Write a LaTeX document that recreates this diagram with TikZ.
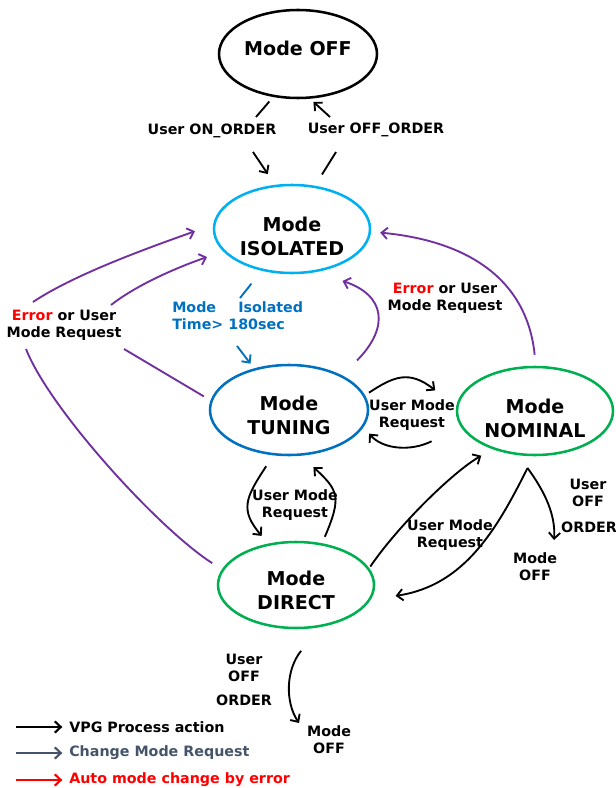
\documentclass[tikz,border=0pt]{standalone}
\usepackage{fontspec}
\setmainfont{DejaVu Sans}
\usetikzlibrary{shapes.geometric,arrows.meta}
\definecolor{isoblue}{HTML}{00B0F0}
\definecolor{tunblue}{HTML}{0070C0}
\definecolor{okgreen}{HTML}{00B050}
\definecolor{errpurple}{HTML}{7030A0}
\definecolor{reqgray}{HTML}{44546A}
\definecolor{errred}{HTML}{FF0000}

\begin{document}
\begin{tikzpicture}[x=0.75pt,y=-0.75pt,
  state/.style={ellipse, line width=1.9pt, inner sep=0pt},
  bigtext/.style={font=\bfseries\fontsize{14.3}{18}\selectfont, align=center, inner sep=0pt},
  lbl/.style={font=\bfseries\fontsize{10.7}{12.75}\selectfont, align=center, inner sep=0pt},
  tip/.style={-{Straight Barb[length=4.5pt,width=8.5pt]}},
  seg/.style={line width=1.4pt},
  act/.style={seg, tip, black},
  err/.style={seg, tip, errpurple},
]
\useasboundingbox (0,0) rectangle (616,788);

% ---------- states ----------
\node[state, draw=black, minimum width=118.5pt, minimum height=66pt] (off) at (298,54) {};
\node[state, draw=isoblue, minimum width=117pt, minimum height=66pt] (iso) at (292,229) {};
\node[state, draw=tunblue, minimum width=118.5pt, minimum height=67.5pt] (tun) at (289,410) {};
\node[state, draw=okgreen, minimum width=117pt, minimum height=66pt] (nom) at (535,411) {};
\node[state, draw=okgreen, minimum width=117pt, minimum height=64.5pt] (dir) at (296,585) {};

\node[bigtext] (offtxt) at (298,48) {Mode OFF};
\node[bigtext] (isotxt) at (292,236) {Mode\\ISOLATED};
\node[bigtext] (tuntxt) at (289,415) {Mode\\TUNING};
\node[bigtext] (nomtxt) at (535,418) {Mode\\NOMINAL};
\node[bigtext] (dirtxt) at (296,590) {Mode\\DIRECT};

% ---------- labels ----------
\node[lbl] (lon) at (212,131) {User ON\_ORDER};
\node[lbl] (loff) at (376,130) {User OFF\_ORDER};
\node[lbl, align=left, anchor=west, text=tunblue] (ltime) at (172,316)
  {\makebox[49.5pt][l]{Mode}Isolated\\Time> 180sec};
\node[lbl] (lerrr) at (445,298) {\textcolor{errred}{Error} or User\\Mode Request};
\node[lbl] (lerrl) at (64,325) {\textcolor{errred}{Error} or User\\Mode Request};
\node[lbl] (ltn) at (412,415) {User Mode\\Request};
\node[lbl] (ltd) at (295,505) {User Mode\\Request};
\node[lbl] (ldn) at (450,535) {User Mode\\Request};
\node[lbl] (lnoff1) at (588,493) {User\\OFF};
\node[lbl] (lnoff2) at (589,527) {ORDER};
\node[lbl] (nomoff) at (535,567) {Mode\\OFF};
\node[lbl] (ldoff1) at (244,668) {User\\OFF};
\node[lbl] (ldoff2) at (244,700) {ORDER};
\node[lbl] (diroff) at (329,740) {Mode\\OFF};

% ---------- free ends of broken connectors ----------
\coordinate (on1) at (256,117);
\coordinate (on2) at (253,152);
\coordinate (of1) at (336,152);
\coordinate (of2) at (330,117);
\coordinate (b1) at (240,298);
\coordinate (b2) at (237,346);
\coordinate (e1) at (124,349);
\coordinate (e2) at (111,305);
\coordinate (e3) at (26,349);
\coordinate (e4) at (33,302);
\coordinate (noff) at (554,540);
\coordinate (doff) at (299,723);

% ---------- power on / off ----------
\draw[seg, shorten <=4.4pt] (off.240) -- (on1);
\draw[act, shorten >=9.7pt] (on2) -- (iso.111.8);
\draw[seg, shorten <=9.9pt] (iso.62.6) -- (of1);
\draw[act, shorten >=3.5pt] (of2) -- (off.285.2);

% ---------- timed isolated -> tuning ----------
\draw[seg, tunblue, shorten <=12.3pt] (iso.234.2) -- (b1);
\draw[seg, tip, tunblue, shorten >=4.4pt] (b2) -- (tun.130.2);

% ---------- back to isolated (error or request) ----------
\draw[err, shorten <=15.75pt, shorten >=21pt] (tun.33.2) .. controls (390,327) and (385,295) .. (iso.299.5);
\draw[err, shorten <=8.3pt, shorten >=6.8pt] (nom.89) .. controls (527,280) and (469,241) .. (iso.358.5);
\draw[seg, errpurple, shorten <=5.8pt] (tun.173.3) -- (e1);
\draw[err, shorten >=12.75pt] (e2) .. controls (134,287) and (170,270) .. (iso.198.2);
\draw[seg, errpurple, shorten <=8.6pt] (dir.168.9) .. controls (160,530) and (50,410) .. (e3);
\draw[err, shorten >=14.4pt] (e4) .. controls (72,276) and (139,251) .. (iso.177.6);

% ---------- user mode requests ----------
\draw[act, shorten <=3.5pt, shorten >=19.9pt] (tun.11.9) .. controls (393,377) and (408.7,369.3) .. (nom.177);
\draw[act, shorten <=24.4pt, shorten >=6.4pt] (nom.192.4) .. controls (410.5,451.75) and (382.7,449.3) .. (tun.347.2);
\draw[act, shorten <=9.75pt, shorten >=7.5pt] (tun.251.5) .. controls (245,498.2) and (240,510) .. (dir.124.5);
\draw[act, shorten <=5.25pt, shorten >=12.5pt] (dir.58.2) .. controls (342,496.6) and (338.2,490.2) .. (tun.285.1);
\draw[act, shorten <=1.4pt, shorten >=9.75pt] (dir.13) .. controls (398,526) and (452.5,472.2) .. (nom.222.7);
\draw[act, shorten <=10pt, shorten >=18.75pt] (nom.268.7) .. controls (496.7,529.6) and (464.4,585.6) .. (dir.349.8);

% ---------- user off orders ----------
\draw[act, shorten <=11.8pt] (nom.249.8) .. controls (545,491.7) and (555.7,515) .. (noff);
\draw[act, shorten <=22.9pt] (dir.300) .. controls (285.75,669.75) and (285,702) .. (doff);

% ---------- legend ----------
\coordinate (lg1) at (16,727);
\coordinate (lg2) at (16,753);
\coordinate (lg3) at (16,780);
\node[lbl, anchor=west] (lt1) at (69,727) {VPG Process action};
\node[lbl, anchor=west, text=reqgray] (lt2) at (69,753) {Change Mode Request};
\node[lbl, anchor=west, text=errred] (lt3) at (69,780) {Auto mode change by error};
\draw[act, line width=1.6pt, shorten >=5pt] (lg1) -- (lt1.west);
\draw[seg, tip, line width=1.6pt, reqgray, shorten >=5pt] (lg2) -- (lt2.west);
\draw[seg, tip, line width=1.6pt, errred, shorten >=5pt] (lg3) -- (lt3.west);
\end{tikzpicture}
\end{document}
